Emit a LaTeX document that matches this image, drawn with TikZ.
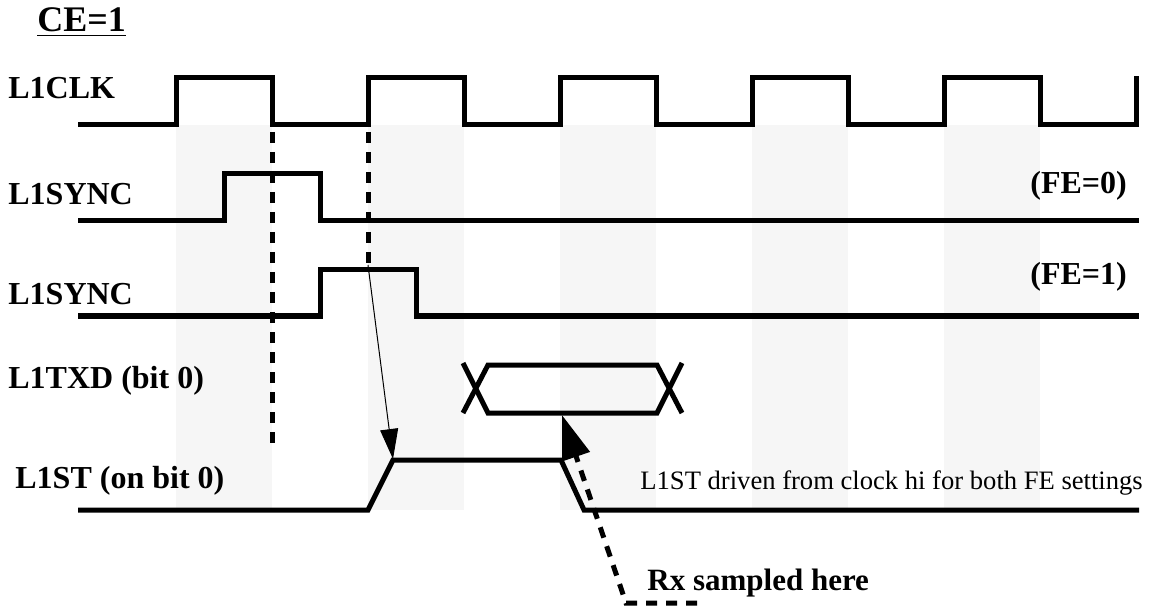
\documentclass[tikz,border=0pt]{standalone}
\usepackage{fontspec}
\setmainfont{Liberation Serif}
\usetikzlibrary{arrows.meta}
\definecolor{bandgray}{HTML}{F6F6F6}

\begin{document}
\begin{tikzpicture}[x=0.5pt,y=-0.5pt,
  wave/.style={line width=2.5pt},
  marker/.style={line width=2.5pt, dash pattern=on 5.5pt off 4.5pt},
  sig/.style={anchor=base west, inner sep=0pt, font=\bfseries\fontsize{16}{18}\selectfont}]
  \useasboundingbox (0,0) rectangle (1151,609);
  \foreach \x in {176,368,560,752,944}
    \fill[bandgray] (\x,125) rectangle (\x+96,510);
  \node[sig, font=\bfseries\fontsize{18}{20}\selectfont] (ce) at (37,32) {\underline{CE=1}};
  \node[sig] (clk) at (8,99) {L1CLK};
  \node[sig] (sync0) at (8,205) {L1SYNC};
  \node[sig] (sync1) at (8,305) {L1SYNC};
  \node[sig] (txd) at (8,388) {L1TXD (bit 0)};
  \node[sig] (st) at (15,488) {L1ST (on bit 0)};
  \node[sig] (fe0) at (1030,194) {(FE=0)};
  \node[sig] (fe1) at (1030,285) {(FE=1)};
  \node[sig, font=\fontsize{13.3}{15}\selectfont] (note) at (640,489) {L1ST driven from clock hi for both FE settings};
  \node[sig, font=\bfseries\fontsize{15.5}{18}\selectfont] (rx) at (647,590) {Rx sampled here};
  \draw[wave] (78,125) \foreach \x in {176,368,560,752,944} { -- (\x,125) -- (\x,78) -- (\x+96,78) -- (\x+96,125) } -- (1136,125) -- (1136,76);
  \draw[wave] (78,221) -- (224,221) -- (224,174) -- (320,174) -- (320,221) -- (1139,221);
  \draw[wave] (78,316) -- (320,316) -- (320,270) -- (416,270) -- (416,316) -- (1139,316);
  \draw[wave] (463,363) -- (488,413) -- (657,413) -- (682,363);
  \draw[wave] (463,413) -- (488,365) -- (657,365) -- (682,413);
  \draw[wave] (78,510) -- (368,510) -- (393,460) -- (561,460) -- (584,510) -- (1139,510);
  \coordinate (fall) at (272,450);
  \coordinate (syncend) at (368,265);
  \coordinate (strise) at (393,459);
  \coordinate (sample) at (562,415);
  \coordinate (bend) at (626,603);
  \coordinate (tail) at (697,603);
  \draw[marker] (272,132) -- (fall);
  \draw[marker] (368,132) -- (syncend);
  \draw[line width=0.5pt, -{Triangle[length=15pt,width=9pt]}] (syncend) -- (strise);
  \draw[marker, -{Triangle[length=22pt,width=14pt]}] (tail) -- (bend) -- (sample);
\end{tikzpicture}
\end{document}
